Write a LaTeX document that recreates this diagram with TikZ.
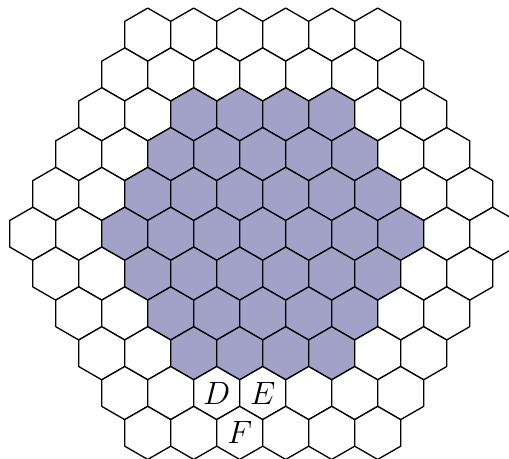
\documentclass[tikz,border=0pt]{standalone}
\usepackage{amsmath,amssymb}
\usepackage{tikz}
\definecolor{cellblue}{RGB}{162,162,200}

\begin{document}
\begin{tikzpicture}[every node/.style={font=\fontsize{16}{19}\selectfont},
  hex/.style={draw=black, line width=0.7pt, line join=round}]
\def\hexside{0.5}
\pgfmathsetmacro\hexw{sqrt(3)*\hexside}
\useasboundingbox (-4.947,-4.240) rectangle (4.638,4.402);
% board of side 6, the middle hexagon of side 4 is shaded
\foreach \r in {-5,...,5} {
  \pgfmathtruncatemacro\qa{max(-5,-5-\r)}
  \pgfmathtruncatemacro\qb{min(5,5-\r)}
  \foreach \q in {\qa,...,\qb} {
    \pgfmathtruncatemacro\dist{max(abs(\q),abs(\r),abs(\q+\r))}
    \ifnum\dist<4 \def\cellcol{cellblue}\else\def\cellcol{white}\fi
    \draw[hex,fill=\cellcol] ({(\q+\r/2)*\hexw},{-1.5*\r*\hexside})
      +(30:\hexside) -- +(90:\hexside) -- +(150:\hexside) -- +(210:\hexside)
      -- +(270:\hexside) -- +(330:\hexside) -- cycle;
  }
}
\node (d) at ({-\hexw},{-6*\hexside}) {$D$};
\node (e) at (0,{-6*\hexside}) {$E$};
\node (f) at ({-0.5*\hexw},{-7.5*\hexside}) {$F$};
\end{tikzpicture}
\end{document}
